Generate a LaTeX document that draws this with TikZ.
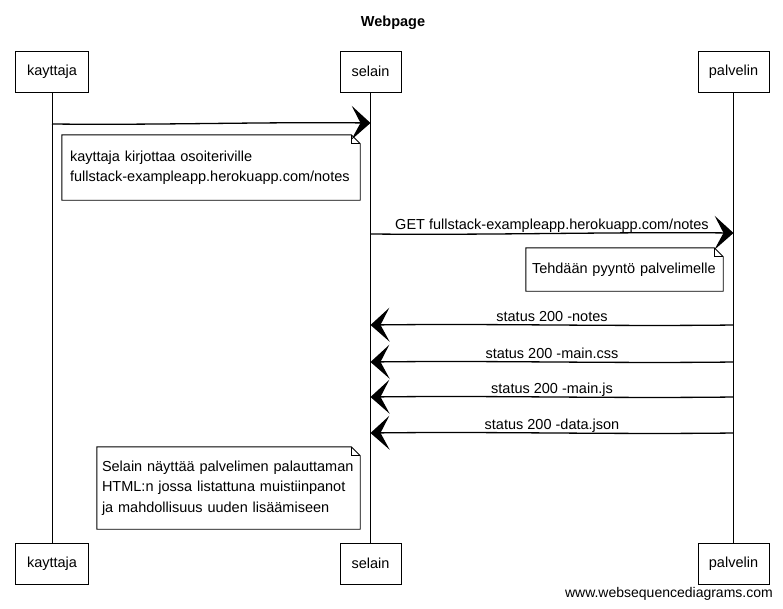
\documentclass[tikz,border=0pt]{standalone}
\usepackage{fontspec}
\setmainfont{Liberation Sans}
\usetikzlibrary{arrows.meta,calc}
\begin{document}
\begin{tikzpicture}[x=1pt,y=-1pt,
  txt/.style={font=\fontsize{14.5}{17}\selectfont, inner sep=0pt},
  actor/.style={draw, line width=0.9pt, minimum height=41, inner sep=0pt, font=\fontsize{14.5}{17}\selectfont},
  life/.style={line width=0.9pt},
  msg/.style={line width=1.3pt, -{Stealth[length=19pt,width=34pt,inset=9pt]}},
  wave/.style={to path={.. controls ($(\tikztostart)!0.35!(\tikztotarget)+(0,1.5)$) and ($(\tikztostart)!0.65!(\tikztotarget)+(0,-1.5)$) .. (\tikztotarget) \tikztonodes}},
  mlabel/.style={txt, midway, anchor=base, yshift=4pt},
  note/.style={align=left, inner xsep=8pt, inner ysep=0pt, font=\fontsize{14.5}{20.5}\selectfont},
  noteline/.style={line width=0.9pt},
]
\useasboundingbox (0,0) rectangle (783,608);

% title
\node[txt, font=\fontsize{14.5}{17}\selectfont\bfseries, anchor=base] (title) at (393,26) {Webpage};

% participants
\node[actor, minimum width=73] (kt) at (52,71.5) {kayttaja};
\node[actor, minimum width=61] (st) at (370.5,71.5) {selain};
\node[actor, minimum width=71] (pt) at (733.5,71.5) {palvelin};
\node[actor, minimum width=73] (kb) at (52,563.5) {kayttaja};
\node[actor, minimum width=61] (sb) at (370.5,563.5) {selain};
\node[actor, minimum width=71] (pb) at (733.5,563.5) {palvelin};

% lifelines
\draw[life] (kt) -- (kb);
\draw[life] (st) -- (sb);
\draw[life] (pt) -- (pb);

% points on lifelines
\coordinate (k1) at (kt.south |- 0,124);
\coordinate (s1) at (st.south |- 0,123);
\coordinate (s2) at (st.south |- 0,234);
\coordinate (p2) at (pt.south |- 0,233);
\foreach \i/\y in {3/325,4/362,5/397,6/433}{
  \coordinate (p\i) at (pt.south |- 0,\y);
  \coordinate (s\i) at (st.south |- 0,\y);
}

% messages
\draw[msg, wave] (k1) to (s1);
\draw[msg, wave] (s2) to node[mlabel] {GET fullstack-exampleapp.herokuapp.com/notes} (p2);
\draw[msg, wave] (p3) to node[mlabel] {status 200 -notes} (s3);
\draw[msg, wave] (p4) to node[mlabel] {status 200 -main.css} (s4);
\draw[msg, wave] (p5) to node[mlabel] {status 200 -main.js} (s5);
\draw[msg, wave] (p6) to node[mlabel] {status 200 -data.json} (s6);

% notes
\node[note, minimum width=298, minimum height=65, text width=282] (n1) at (211,167.5)
  {kayttaja kirjottaa osoiteriville\\fullstack-exampleapp.herokuapp.com/notes};
\node[note, minimum width=197, minimum height=43, text width=185, inner xsep=6pt] (n2) at (624.5,269.5)
  {Tehdään pyyntö palvelimelle};
\node[note, minimum width=263, minimum height=82, text width=253, inner xsep=5pt] (n3) at (228.5,488)
  {Selain näyttää palvelimen palauttaman\\HTML:n jossa listattuna muistiinpanot\\ja mahdollisuus uuden lisäämiseen};
\foreach \n in {n1,n2,n3}{
  \draw[noteline] (\n.north west) -- ($(\n.north east)+(-9,0)$) -- ($(\n.north east)+(0,9)$)
     -- (\n.south east) -- (\n.south west) -- cycle;
  \draw[noteline] ($(\n.north east)+(-9,0)$) -- ($(\n.north east)+(-9,9)$) -- ($(\n.north east)+(0,9)$);
}

% footer
\node[txt, font=\fontsize{14}{17}\selectfont, anchor=base east] (footer) at (773,597) {www.websequencediagrams.com};
\end{tikzpicture}
\end{document}
